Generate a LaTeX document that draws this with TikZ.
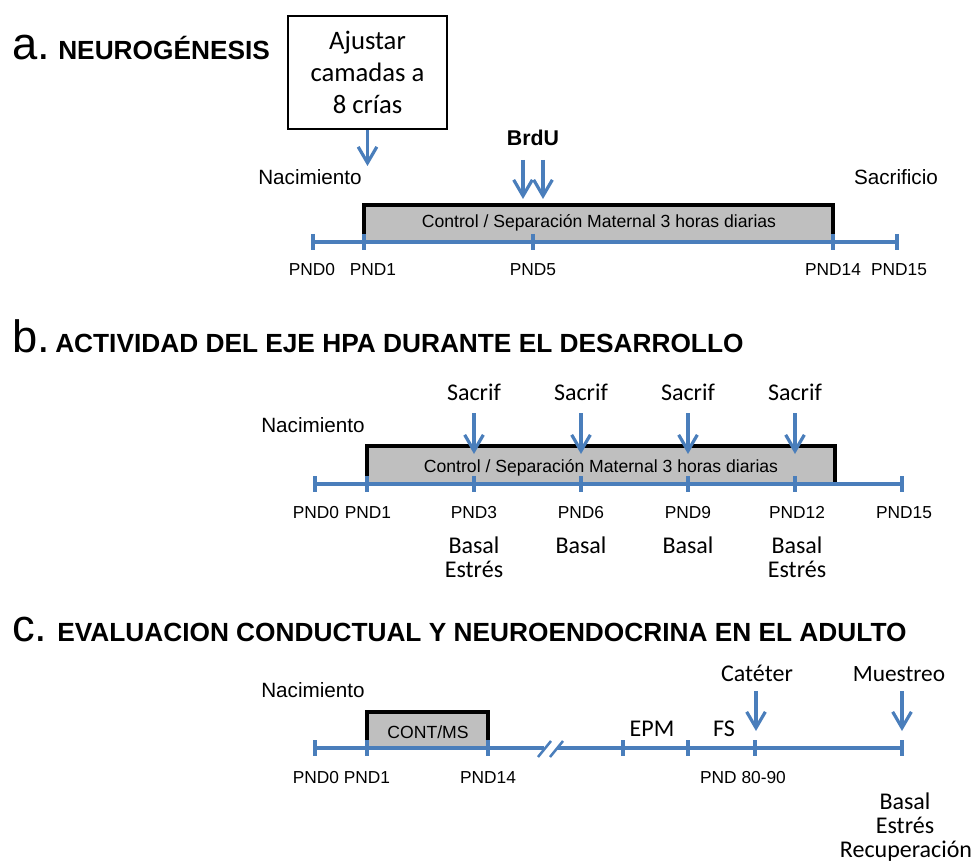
\documentclass[tikz,border=0pt]{standalone}
\usepackage{fontspec}
\setmainfont{Liberation Sans}
\newfontfamily\calibri{Carlito}
\usetikzlibrary{arrows.meta}
\definecolor{lblue}{RGB}{74,126,187}
\definecolor{lgray}{RGB}{191,191,191}
\tikzset{
  tl/.style={lblue, line width=2.4pt},
  frame/.style={line width=2.6pt, line join=miter},
  pnd/.style={anchor=base, inner sep=0pt, font=\fontsize{13}{15}\selectfont},
  cal/.style={anchor=base, inner sep=0pt, font=\calibri\fontsize{18}{21}\selectfont},
  arial/.style={anchor=base, inner sep=0pt, font=\fontsize{15.5}{18}\selectfont},
  bartext/.style={anchor=base, inner sep=0pt, font=\fontsize{13.2}{15}\selectfont},
  hdr/.style={anchor=base west, inner sep=0pt, font=\bfseries\fontsize{19.7}{22}\selectfont},
  big/.style={anchor=base west, inner sep=0pt, font=\fontsize{34}{34}\selectfont},
}
\begin{document}
\begin{tikzpicture}[x=0.75pt, y=-0.75pt, >={Straight Barb[length=12pt,width=14pt]}]
\useasboundingbox (0,0) rectangle (972,863);
% a. neurogenesis
\node[big] (la) at (12,60) {a.};
\node[hdr] (ha) at (58,60) {NEUROGÉNESIS};
\node[draw, line width=1.3pt, minimum width=119pt, minimum height=85pt, align=center,
  font=\calibri\fontsize{20}{24}\selectfont] (adj) at (367.5,72.5) {Ajustar\\camadas a\\8 crías};
\fill[lgray] (364,205) rectangle (833,242);
\draw[frame] (364,242) -- (364,205) -- (833,205) -- (833,242);
\node[bartext] (ba) at (599,228) {Control / Separación Maternal 3 horas diarias};
\draw[tl] (313,242) -- (897,242);
\foreach \x in {313,364,533,833,897} \draw[tl] (\x,234) -- (\x,250);
\foreach \x/\t in {312/PND0,373/PND1,533/PND5,833/PND14,899/PND15}
  \node[pnd] (pa\x) at (\x,276) {\t};
\node[arial] (nca) at (310,185) {Nacimiento};
\node[arial] (sca) at (896,185) {Sacrificio};
\node[anchor=base, inner sep=0pt, font=\bfseries\fontsize{16}{18}\selectfont] (brdu) at (533,146) {BrdU};
\coordinate (nac) at (367.5,166);
\draw[tl,->] (adj) -- (nac);
\foreach \x in {523,543}{
  \coordinate (u\x) at (\x,160); \coordinate (v\x) at (\x,199);
  \draw[tl,->] (u\x) -- (v\x);
}
% b. eje HPA
\node[big] (lb) at (12,353) {b.};
\node[hdr] (hb) at (55,353) {ACTIVIDAD DEL EJE HPA DURANTE EL DESARROLLO};
\fill[lgray] (367,446) rectangle (835,484);
\draw[frame] (367,484) -- (367,446) -- (835,446) -- (835,484);
\node[bartext] (bb) at (601,472) {Control / Separación Maternal 3 horas diarias};
\draw[tl] (315,484) -- (902,484);
\foreach \x in {315,367,474,581,688,795,902} \draw[tl] (\x,476) -- (\x,492);
\foreach \x/\t in {316/PND0,368/PND1,474/PND3,581/PND6,688/PND9,797/PND12,904/PND15}
  \node[pnd] (pb\x) at (\x,518) {\t};
\node[arial] (ncb) at (313,432) {Nacimiento};
\foreach \x in {474,581,688,795}{
  \node[cal] (s\x) at (\x,400) {Sacrif};
  \coordinate (p\x) at (\x,413); \coordinate (q\x) at (\x,454);
  \draw[tl,->] (p\x) -- (q\x);
}
\foreach \x/\t in {474/Basal,581/Basal,688/Basal,797/Basal} \node[cal] (k\x) at (\x,553) {\t};
\foreach \x in {474,797} \node[cal] (e\x) at (\x,577) {Estrés};
% c. adulto
\node[big] (lc) at (12,641) {c.};
\node[hdr] (hc) at (57,641) {EVALUACION CONDUCTUAL Y NEUROENDOCRINA EN EL ADULTO};
\fill[lgray] (367,712) rectangle (488,748);
\draw[frame] (367,748) -- (367,712) -- (488,712) -- (488,748);
\node[bartext] (bc) at (428,738) {CONT/MS};
\draw[tl] (315,748) -- (544,748) (557,748) -- (902,748);
\draw[tl, line width=1.9pt] (538,757) -- (551,741) (550,757) -- (563,741);
\foreach \x in {315,367,488,623,688,755,902} \draw[tl] (\x,740) -- (\x,756);
\foreach \x/\t in {316/PND0,367/PND1,488/PND14,743/PND 80-90}
  \node[pnd] (pc\x) at (\x,783) {\t};
\node[arial] (ncc) at (313,697) {Nacimiento};
\node[cal] (epm) at (652,736) {EPM};
\node[cal] (fs) at (724,736) {FS};
\node[cal] (cat) at (757,681) {Catéter};
\node[cal, font=\calibri\fontsize{17.5}{21}\selectfont] (mue) at (899,681) {Muestreo};
\foreach \x in {756,902}{
  \coordinate (m\x) at (\x,691); \coordinate (n\x) at (\x,731);
  \draw[tl,->] (m\x) -- (n\x);
}
\node[cal] (bas) at (905,809) {Basal};
\node[cal] (est) at (905,833) {Estrés};
\node[cal] (rec) at (906,857) {Recuperación};
\end{tikzpicture}
\end{document}
